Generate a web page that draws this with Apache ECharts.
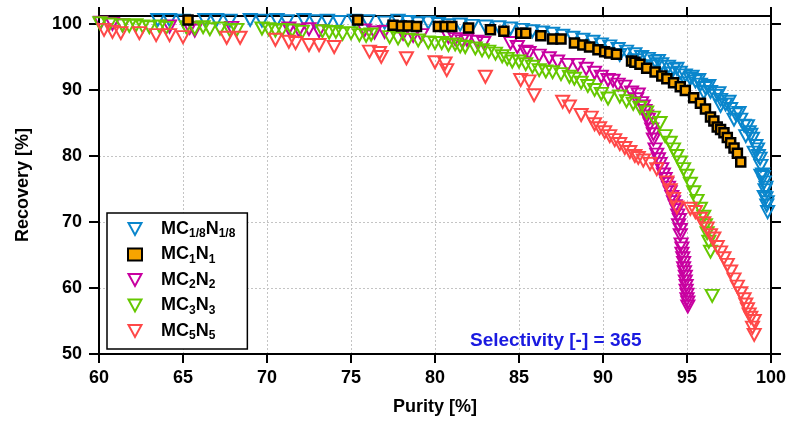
<!DOCTYPE html>
<html><head><meta charset="utf-8">
<script src="https://cdn.jsdelivr.net/npm/echarts@6/dist/echarts.min.js"></script>
<style>html,body{margin:0;padding:0;background:#fff}#c{width:789px;height:425px}</style>
</head><body><div id="c"></div>
<script>
const seriesNames = ['MC1/8N1/8', 'MC1N1', 'MC2N2', 'MC3N3', 'MC5N5'];
const xTicks = [60, 65, 70, 75, 80, 85, 90, 95, 100];
const yTicks = [50, 60, 70, 80, 90, 100];
const annotationText = 'Selectivity [-] = 365';

// [purity %, recovery %]
const blueData = [
[63.5,100.6],[64.2,100.6],[65.0,100.5],[66.3,100.6],[67.0,100.6],[67.8,100.5],[69.0,100.6],[69.7,100.5],[70.6,100.6],[71.2,100.4],
[72.2,100.6],[72.9,100.4],[73.6,100.5],[74.3,100.3],[75.2,100.5],[76.0,100.4],[77.0,100.2],[77.8,100.5],[78.4,100.3],[79.0,100.1],
[79.6,100.2],[80.2,100.0],[80.8,99.8],[81.5,99.9],[82.2,99.7],[83.0,99.6],[83.8,99.5],[84.5,99.3],[85.2,99.1],[85.8,98.9],
[86.4,98.7],[87.0,98.5],[87.6,98.2],[88.2,97.9],[88.8,97.6],[89.4,97.3],[89.9,96.9],[90.4,96.6],[90.9,96.2],[91.4,95.8],
[91.9,95.4],[92.3,95.0],[92.7,94.7],[93.1,94.3],[93.5,93.9],[93.9,93.5],[94.2,93.1],[94.6,92.6],[94.9,92.2],[95.2,91.7],
[95.5,91.3],[95.8,90.8],[96.1,90.3],[96.4,89.7],[96.7,89.1],[97.0,88.5],[97.3,87.8],[97.6,87.1],[97.9,86.3],[98.2,85.5],
[98.4,84.6],[98.7,83.6],[98.9,82.6],[99.1,81.5],[99.25,80.0],[99.4,78.5],[99.5,77.2],[99.6,76.0],[99.65,74.8],[99.7,73.6],
[99.75,72.5],[99.8,71.5],
[91.0,95.3],[92.0,94.5],[93.0,93.6],[94.0,92.5],[95.0,91.0],[96.0,89.6],[97.0,87.6],[97.8,85.5],[98.5,83.0],[99.0,80.5],[99.4,77.0],[99.6,73.8],
[93.3,94.4],[94.4,93.2],[95.3,92.0],[95.7,91.5],[96.3,90.6],[96.9,89.5],[97.5,88.2],[98.1,86.5],[98.6,84.5],[98.8,83.2],
[99.2,81.0],[99.35,79.6],[99.55,76.8],[99.7,75.2],[99.78,73.0]
];
const orangeData = [
[65.3,100.6],[75.4,100.6],[77.5,99.8],[78.0,99.7],[78.4,99.7],[78.9,99.6],[80.2,99.6],[80.6,99.6],[81.0,99.6],[82.0,99.4],
[83.3,99.1],[84.1,98.9],[85.1,98.6],[85.4,98.6],[86.3,98.2],[87.0,97.7],[87.5,97.7],[88.3,97.1],[88.8,96.8],[89.2,96.5],
[89.7,96.1],[90.1,95.8],[90.4,95.6],[90.8,95.4],[91.7,94.4],[91.9,94.2],[92.2,93.9],[92.6,93.3],[93.1,92.7],[93.5,92.1],
[93.8,91.7],[94.2,91.1],[94.6,90.5],[94.9,89.9],[95.4,88.8],[95.8,88.0],[96.1,87.1],[96.4,85.9],[96.6,85.3],[96.8,84.4],
[97.0,84.0],[97.2,83.5],[97.4,82.8],[97.6,82.0],[97.8,81.2],[98.0,80.4],[98.2,79.1]
];
const magentaData = [
[60.1,100.2],[60.8,100.0],[61.4,99.8],[64.2,99.6],[65.4,99.4],[65.7,99.0],[67.9,99.4],[71.3,99.3],[71.9,99.0],[72.5,99.2],
[73.1,98.9],[75.8,99.0],[76.4,98.7],[77.0,98.8],[78.1,98.5],[78.7,98.2],[79.2,98.3],[80.8,98.0],[81.2,97.7],[81.6,97.4],
[81.9,97.6],[82.5,97.3],[82.9,97.1],[84.5,97.1],[84.9,96.5],[85.4,95.8],[85.6,95.6],[86.2,95.2],[86.8,94.8],[87.3,94.3],
[87.9,93.8],[88.5,93.8],[89.0,93.2],[89.5,92.6],[89.9,92.0],[90.3,91.5],[90.6,91.4],[90.9,90.8],[91.3,90.5],[91.7,89.6],
[92.1,89.3],[92.3,88.0],[92.5,86.8],[92.7,85.5],[92.9,84.0],[93.0,82.5],[93.1,81.0],[93.3,79.5],[93.5,78.0],[93.7,76.5],
[93.9,75.2],[94.1,73.8],[94.3,72.4],[94.45,71.0],[94.5,69.5],[94.6,68.0],[94.65,66.6],[94.7,65.2],[94.8,63.8],[94.85,62.4],
[94.9,61.0],[94.95,59.6],[95.0,58.3],[95.05,57.2],
[92.0,88.6],[92.4,87.5],[92.6,86.0],[92.8,84.8],[93.0,83.3],[93.2,80.2],[93.4,78.8],[93.6,77.2],[93.8,75.8],[94.0,74.5],
[94.2,73.0],[94.4,71.8],[94.55,70.3],[94.6,68.8],[94.7,66.0],[94.75,64.5],[94.8,63.0],[94.9,61.7],[94.95,60.3],[95.0,59.0],[95.05,57.8]
];
const greenData = [
[60.05,100.1],[60.6,99.9],[61.4,99.8],[61.8,99.7],[62.2,99.8],[62.6,99.6],[63.0,99.5],[63.6,99.6],[64.0,99.4],[65.2,99.5],
[65.7,99.3],[66.2,99.5],[66.6,99.2],[67.2,99.3],[67.8,99.0],[68.2,99.1],[69.7,99.3],[70.1,99.2],[70.5,99.0],[70.9,99.1],
[71.5,99.0],[72.1,98.8],[73.3,98.9],[73.7,98.7],[74.1,98.8],[74.5,98.5],[75.0,98.6],[75.5,98.3],[75.9,98.2],[76.2,98.4],
[77.3,98.0],[77.8,97.8],[78.4,97.6],[79.0,97.5],[79.6,97.2],[80.0,97.1],[80.4,97.1],[80.8,96.8],[81.2,96.9],[81.5,96.6],
[81.8,96.5],[82.4,96.3],[82.8,96.0],[83.2,95.8],[83.6,95.5],[84.0,95.1],[84.3,94.7],[84.6,94.3],[85.0,94.3],[85.4,93.9],
[85.8,93.5],[86.2,93.0],[86.6,92.8],[87.0,92.7],[87.5,92.4],[88.0,92.0],[88.3,91.7],[88.7,91.1],[89.1,90.6],[89.5,90.0],
[89.9,89.4],[90.3,88.7],[91.0,89.0],[91.4,88.3],[91.8,87.9],[92.2,87.3],[92.6,86.6],[93.0,85.8],[93.4,85.0],[93.7,83.0],
[94.0,82.0],[94.2,81.0],[94.4,80.0],[94.6,79.0],[94.8,78.0],[95.0,77.0],[95.2,75.8],[95.4,74.5],[95.6,73.2],[95.8,72.0],
[96.0,70.8],[96.1,69.5],[96.2,68.3],[96.3,67.0],[96.4,65.5],[96.5,58.8]
];
const redData = [
[60.3,99.1],[60.8,98.8],[61.3,98.6],[62.4,98.6],[63.4,98.3],[64.2,98.3],[65.0,98.0],[67.6,97.9],[68.4,97.9],[70.5,97.6],
[71.3,97.3],[71.7,97.1],[72.5,96.8],[73.1,96.8],[74.0,96.5],[76.1,95.8],[76.7,95.6],[76.8,95.0],[78.3,94.8],[80.0,94.2],
[80.6,94.0],[80.7,93.0],[83.0,92.0],[85.1,91.5],[85.6,91.3],[85.9,89.2],[87.6,88.2],[88.0,87.5],[88.7,86.2],[89.3,85.8],
[89.5,84.8],[89.8,84.2],[90.1,83.6],[90.4,83.0],[90.7,82.4],[91.0,81.8],[91.3,81.2],[91.6,80.6],[91.9,80.0],[92.1,79.7],
[92.4,79.3],[92.8,78.8],[93.2,78.0],[93.8,76.0],[94.0,74.8],[94.2,73.5],[94.4,72.2],[95.2,72.0],[95.5,71.5],[95.8,70.5],
[96.0,69.8],[96.2,69.0],[96.4,68.0],[96.6,67.5],[96.8,66.2],[97.0,65.4],[97.2,64.5],[97.4,63.5],[97.6,62.5],[97.8,61.3],
[98.0,60.2],[98.2,59.2],[98.4,58.3],[98.5,57.5],[98.6,56.8],[98.7,56.0],[98.8,55.5],[99.0,55.0],[98.9,54.0],[99.0,52.9]
];

const FONT = '"Liberation Sans", Arial, sans-serif';
const DOWN_TRI = 'path://M0,0L13,0L6.5,12Z';
const chart = echarts.init(document.getElementById('c'), null, {renderer: 'canvas'});

function triSeries(name, data, color) {
  return {
    name: name, type: 'scatter', data: data,
    symbol: 'triangle', symbolRotate: 180, symbolSize: [13, 12], symbolKeepAspect: true,
    itemStyle: {color: 'rgba(255,255,255,0)', borderColor: color, borderWidth: 2, opacity: 1},
    emphasis: {disabled: true}, z: 3
  };
}
const legendRich = {
  b: {fontSize: 18, fontWeight: 'bold', fontFamily: FONT, color: '#000', lineHeight: 22},
  s: {fontSize: 12, fontWeight: 'bold', fontFamily: FONT, color: '#000', lineHeight: 12, verticalAlign: 'bottom'}
};
function legendLabel(name) {
  const m = name.match(/^MC(.+)N(.+)$/);
  return '{b|MC}{s|' + m[1] + '}{b|N}{s|' + m[2] + '}';
}
const axisCommon = {
  type: 'value',
  axisLine: {show: true, onZero: false, lineStyle: {color: '#000', width: 2}},
  axisTick: {show: true, inside: false, length: 9, lineStyle: {color: '#000', width: 2}},
  minorTick: {show: false}
};
const option = {
  animation: false,
  backgroundColor: '#fff',
  grid: {left: 99, right: 16, top: 16, bottom: 71, containLabel: false},
  xAxis: [
    Object.assign({}, axisCommon, {
      min: xTicks[0], max: xTicks[xTicks.length - 1], interval: 5, position: 'bottom',
      name: 'Purity [%]', nameLocation: 'middle', nameGap: 44,
      nameTextStyle: {fontSize: 18, fontWeight: 'bold', fontFamily: FONT, color: '#000'},
      axisLabel: {fontSize: 18, fontWeight: 'bold', fontFamily: FONT, color: '#000', margin: 15},
      splitLine: {show: true, lineStyle: {color: '#c4c4c4', type: [2, 2], width: 1}}
    }),
    Object.assign({}, axisCommon, {
      min: xTicks[0], max: xTicks[xTicks.length - 1], interval: 5, position: 'top',
      axisLabel: {show: false}, splitLine: {show: false}
    })
  ],
  yAxis: [
    Object.assign({}, axisCommon, {
      min: yTicks[0], max: 101.2, interval: 10, position: 'left',
      name: 'Recovery [%]', nameLocation: 'middle', nameGap: 67,
      nameTextStyle: {fontSize: 18, fontWeight: 'bold', fontFamily: FONT, color: '#000'},
      axisTick: {show: true, inside: false, length: 10, lineStyle: {color: '#000', width: 2}, customValues: yTicks},
      axisLabel: {fontSize: 18, fontWeight: 'bold', fontFamily: FONT, color: '#000', margin: 17, customValues: yTicks,
        formatter: v => (yTicks.indexOf(v) >= 0 ? String(v) : '')},
      splitLine: {show: true, lineStyle: {color: '#c4c4c4', type: [2, 2], width: 1}}
    }),
    Object.assign({}, axisCommon, {
      min: yTicks[0], max: 101.2, interval: 10, position: 'right',
      axisTick: {show: true, inside: false, length: 10, lineStyle: {color: '#000', width: 2}, customValues: yTicks},
      axisLabel: {show: false}, splitLine: {show: false}
    })
  ],
  legend: {
    show: true, orient: 'vertical', left: 107, top: 213,
    data: [
      {name: seriesNames[0], icon: DOWN_TRI},
      {name: seriesNames[1], icon: 'rect'},
      {name: seriesNames[2], icon: DOWN_TRI},
      {name: seriesNames[3], icon: DOWN_TRI},
      {name: seriesNames[4], icon: DOWN_TRI}
    ],
    itemWidth: 14, itemHeight: 12, itemGap: 5.5,
    symbolKeepAspect: true,
    padding: [7, 12, 7, 20],
    borderColor: '#000', borderWidth: 1.5, backgroundColor: '#fff',
    selectedMode: false,
    formatter: legendLabel,
    textStyle: {fontSize: 18, fontWeight: 'bold', fontFamily: FONT, color: '#000', rich: legendRich, padding: [0, 0, 0, 14]}
  },
  title: {
    text: annotationText, left: 470, top: 331, padding: 0,
    textStyle: {fontSize: 19, fontWeight: 'bold', fontFamily: FONT, color: '#1a1ae0'}
  },
  series: [
    triSeries(seriesNames[0], blueData, '#0a86cc'),
    {
      name: seriesNames[1], type: 'scatter', data: orangeData,
      symbol: 'rect', symbolSize: 9,
      itemStyle: {color: '#f7a400', borderColor: '#000', borderWidth: 2.5, opacity: 1},
      emphasis: {disabled: true}, z: 4
    },
    triSeries(seriesNames[2], magentaData, '#c800a0'),
    triSeries(seriesNames[3], greenData, '#66c800'),
    triSeries(seriesNames[4], redData, '#ff4848')
  ]
};
chart.setOption(option);
</script></body></html>
